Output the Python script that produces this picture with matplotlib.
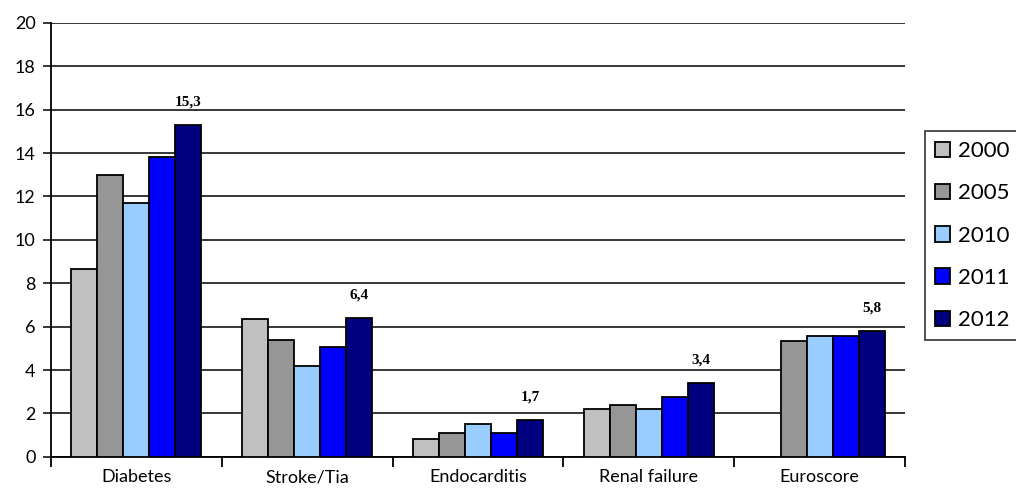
import matplotlib.pyplot as plt
import numpy as np

# Datos del gráfico
categorias = ["Diabetes", "Stroke/Tia", "Endocarditis", "Renal failure", "Euroscore"]
anios = ["2000", "2005", "2010", "2011", "2012"]
valores_2000 = [8.65, 6.35, 0.82, 2.2, np.nan]
valores_2005 = [13.0, 5.4, 1.1, 2.4, 5.35]
valores_2010 = [11.7, 4.2, 1.5, 2.2, 5.55]
valores_2011 = [13.8, 5.05, 1.1, 2.78, 5.55]
valores_2012 = [15.3, 6.4, 1.7, 3.4, 5.8]
etiquetas_2012 = ["15,3", "6,4", "1,7", "3,4", "5,8"]

series = [valores_2000, valores_2005, valores_2010, valores_2011, valores_2012]
colores = ["#C0C0C0", "#969696", "#99CCFF", "#0000FF", "#000080"]

plt.rcParams["font.family"] = ["Lato", "DejaVu Sans"]

fig = plt.figure(figsize=(10.16, 4.95), dpi=100)
ax = fig.add_axes([0.050, 0.077, 0.841, 0.877])

x = np.arange(len(categorias))
ancho = 0.152
for i, (valores, color, anio) in enumerate(zip(series, colores, anios)):
    desplazamiento = (i - 2) * ancho
    ax.bar(x + desplazamiento, valores, width=ancho, color=color,
           edgecolor="black", linewidth=1.3, label=anio, zorder=3)

# Etiquetas de valor sobre la serie 2012
for xi, valor, texto in zip(x, valores_2012, etiquetas_2012):
    ax.text(xi + 2 * ancho, valor + 0.75, texto, ha="center", va="bottom",
            fontsize=11, fontweight="bold", family="Liberation Serif")

ax.set_ylim(0, 20)
ax.set_xlim(-0.5, len(categorias) - 0.5)
ax.set_yticks(np.arange(0, 21, 2))
ax.yaxis.grid(True, color="black", linewidth=1.1, zorder=0)
ax.set_axisbelow(True)

ax.set_xticks(x)
ax.set_xticklabels(categorias, fontsize=13)
ax.set_xticks(np.arange(-0.5, len(categorias), 1), minor=True)
ax.tick_params(axis="x", which="major", length=0, pad=9)
ax.tick_params(axis="x", which="minor", length=7, width=1.3, direction="out", color="black")
ax.tick_params(axis="y", length=6, width=1.1, labelsize=13, pad=5)

for lado in ["top", "right"]:
    ax.spines[lado].set_visible(False)
ax.spines["left"].set_linewidth(1.3)
ax.spines["bottom"].set_linewidth(1.3)

leyenda = fig.legend(loc="upper left", bbox_to_anchor=(0.910, 0.735), fontsize=16,
                     frameon=True, fancybox=False, edgecolor="black",
                     handlelength=0.7, handleheight=0.7, handletextpad=0.35,
                     labelspacing=1.0, borderpad=0.45, borderaxespad=0)
leyenda.get_frame().set_linewidth(1.2)

fig.savefig("out.png", dpi=100)
